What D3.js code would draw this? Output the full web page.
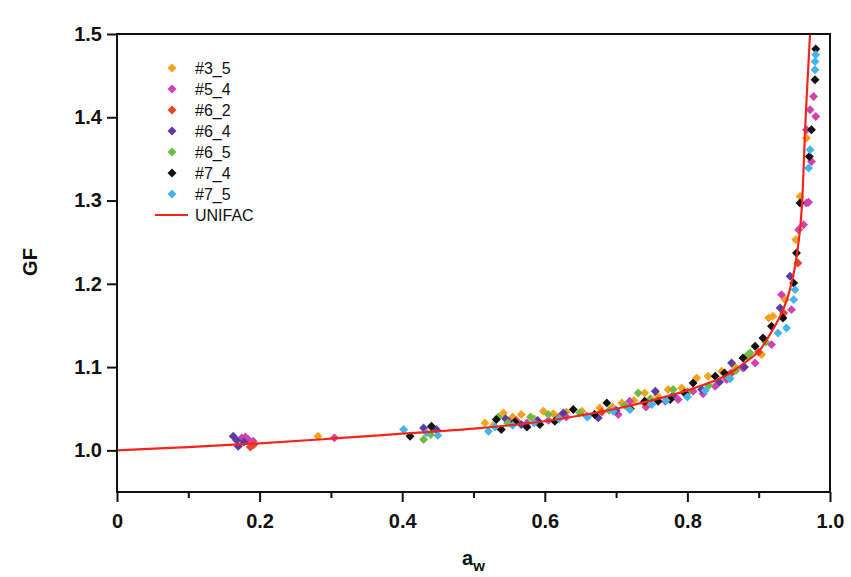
<!DOCTYPE html>
<html>
<head>
<meta charset="utf-8">
<script src="https://cdn.jsdelivr.net/npm/d3@7"></script>
<style>
  html, body { margin: 0; padding: 0; background: #fff; }
  svg { display: block; }
  text { font-family: "Liberation Sans", Arial, sans-serif; }
</style>
</head>
<body>
<svg id="chart" width="851" height="577"></svg>
<script>
// Axis ticks
const awTicks = [0, 0.2, 0.4, 0.6, 0.8, 1.0];
const awMinorTicks = [0.1, 0.3, 0.5, 0.7, 0.9];
const gfTicks = [1.0, 1.1, 1.2, 1.3, 1.4, 1.5];

// Measured growth factors, [a_w, GF] per sample
const s3_5 = [[0.282,1.017],[0.441,1.027],[0.516,1.033],[0.528,1.030],[0.542,1.045],[0.555,1.040],[0.567,1.043],[0.585,1.038],[0.598,1.047],[0.612,1.044],[0.630,1.046],[0.652,1.047],[0.677,1.051],[0.695,1.052],[0.708,1.057],[0.725,1.060],[0.740,1.069],[0.758,1.066],[0.773,1.073],[0.792,1.075],[0.813,1.087],[0.829,1.089],[0.848,1.095],[0.866,1.101],[0.885,1.112],[0.904,1.115],[0.914,1.159],[0.920,1.161],[0.937,1.181],[0.952,1.253],[0.958,1.305],[0.967,1.375]];
const s5_4 = [[0.175,1.015],[0.184,1.013],[0.191,1.011],[0.180,1.016],[0.305,1.015],[0.550,1.035],[0.575,1.033],[0.605,1.036],[0.630,1.040],[0.659,1.041],[0.703,1.043],[0.719,1.059],[0.742,1.052],[0.769,1.059],[0.787,1.061],[0.808,1.071],[0.822,1.068],[0.839,1.077],[0.855,1.085],[0.862,1.093],[0.878,1.099],[0.895,1.105],[0.918,1.127],[0.932,1.187],[0.946,1.169],[0.956,1.265],[0.963,1.271],[0.967,1.297],[0.970,1.298],[0.974,1.347],[0.967,1.385],[0.980,1.401],[0.972,1.409],[0.977,1.425]];
const s6_2 = [[0.187,1.004],[0.192,1.007],[0.560,1.036],[0.620,1.040],[0.680,1.046],[0.740,1.057],[0.800,1.070],[0.860,1.092],[0.900,1.118],[0.935,1.165],[0.955,1.225]];
const s6_4 = [[0.163,1.017],[0.170,1.005],[0.168,1.012],[0.178,1.010],[0.430,1.027],[0.448,1.025],[0.545,1.038],[0.567,1.031],[0.590,1.036],[0.626,1.045],[0.675,1.039],[0.700,1.048],[0.755,1.071],[0.780,1.066],[0.820,1.073],[0.845,1.082],[0.862,1.105],[0.880,1.100],[0.930,1.171],[0.944,1.209]];
const s6_5 = [[0.430,1.013],[0.440,1.019],[0.535,1.040],[0.548,1.033],[0.580,1.040],[0.605,1.043],[0.649,1.045],[0.690,1.048],[0.712,1.054],[0.731,1.069],[0.748,1.062],[0.780,1.073],[0.800,1.069],[0.830,1.078],[0.855,1.090],[0.868,1.096],[0.885,1.115],[0.888,1.117],[0.910,1.130]];
const s7_4 = [[0.411,1.017],[0.441,1.029],[0.532,1.037],[0.539,1.025],[0.558,1.034],[0.575,1.028],[0.593,1.031],[0.614,1.035],[0.640,1.049],[0.670,1.043],[0.687,1.057],[0.720,1.050],[0.740,1.059],[0.759,1.059],[0.776,1.061],[0.796,1.069],[0.808,1.081],[0.839,1.089],[0.852,1.093],[0.878,1.111],[0.895,1.125],[0.906,1.135],[0.918,1.149],[0.934,1.159],[0.949,1.201],[0.953,1.237],[0.958,1.297],[0.971,1.353],[0.974,1.385],[0.979,1.445],[0.980,1.482]];
const s7_5 = [[0.402,1.025],[0.434,1.021],[0.450,1.018],[0.521,1.023],[0.530,1.028],[0.555,1.030],[0.585,1.033],[0.620,1.038],[0.660,1.040],[0.696,1.047],[0.719,1.049],[0.750,1.055],[0.770,1.060],[0.800,1.064],[0.825,1.072],[0.860,1.086],[0.927,1.141],[0.939,1.147],[0.949,1.181],[0.951,1.193],[0.970,1.339],[0.972,1.361],[0.979,1.457],[0.979,1.467],[0.980,1.475]];

// UNIFAC prediction
const unifacAw = [0, 0.1, 0.2, 0.3, 0.4, 0.5, 0.6, 0.65, 0.7, 0.75, 0.8, 0.85, 0.88, 0.9, 0.915, 0.93, 0.94, 0.946, 0.951, 0.957, 0.9605, 0.9657, 0.972];
const unifacGF = [1.000, 1.004, 1.0085, 1.014, 1.020, 1.026, 1.035, 1.042, 1.050, 1.060, 1.072, 1.088, 1.105, 1.119, 1.138, 1.161, 1.182, 1.201, 1.221, 1.258, 1.292, 1.397, 1.500];

const seriesNames = ["#3_5", "#5_4", "#6_2", "#6_4", "#6_5", "#7_4", "#7_5"];
const seriesData = [s3_5, s5_4, s6_2, s6_4, s6_5, s7_4, s7_5];
const seriesColors = ["#f6a21e", "#d042ad", "#e8432b", "#5a3ca6", "#6dbd45", "#111111", "#44b5ea"];
const curveName = "UNIFAC";
const curveColor = "#f2261c";

const svg = d3.select("#chart");
const margin = { top: 34, right: 21, bottom: 85, left: 117 };
const W = 851, H = 577;
const iw = W - margin.left - margin.right;
const ih = H - margin.top - margin.bottom;

const x = d3.scaleLinear().domain([0, 1.0]).range([0, iw]);
const y = d3.scaleLinear().domain([0.95, 1.5]).range([ih, 0]);

const g = svg.append("g").attr("transform", `translate(${margin.left},${margin.top})`);

// Data points (rotated squares)
const sym = d3.symbol().type(d3.symbolSquare).size(40);
seriesData.forEach((pts, i) => {
  g.append("g").selectAll("path")
    .data(pts)
    .join("path")
    .attr("d", sym)
    .attr("transform", d => `translate(${x(d[0])},${y(d[1])}) rotate(45)`)
    .attr("fill", seriesColors[i]);
});

// UNIFAC curve
const curvePts = unifacAw.map((a, i) => [a, unifacGF[i]]);
g.append("path")
  .datum(curvePts)
  .attr("fill", "none")
  .attr("stroke", curveColor)
  .attr("stroke-width", 2.2)
  .attr("d", d3.line().x(d => x(d[0])).y(d => y(d[1])).curve(d3.curveCatmullRom.alpha(0.5)));

// Frame
g.append("rect")
  .attr("x", 0).attr("y", 0).attr("width", iw).attr("height", ih)
  .attr("fill", "none").attr("stroke", "#111").attr("stroke-width", 2);

// Axes
const xAxis = g.append("g").attr("transform", `translate(0,${ih})`)
  .call(d3.axisBottom(x).tickValues(awTicks)
    .tickFormat(d => d === 0 ? "0" : d.toFixed(1))
    .tickSize(10).tickPadding(12));
const xMinor = g.append("g").attr("transform", `translate(0,${ih})`)
  .call(d3.axisBottom(x).tickValues(awMinorTicks).tickFormat("").tickSize(6));
const yAxis = g.append("g")
  .call(d3.axisLeft(y).tickValues(gfTicks).tickFormat(d3.format(".1f"))
    .tickSize(10).tickPadding(5));

[xAxis, xMinor, yAxis].forEach(a => {
  a.select(".domain").remove();
  a.selectAll(".tick line").attr("stroke", "#111").attr("stroke-width", 2);
  a.selectAll(".tick text")
    .attr("fill", "#111")
    .style("font-size", "20px")
    .style("font-weight", "bold");
});

// Axis titles
svg.append("text")
  .attr("transform", "translate(30,262) rotate(-90)")
  .attr("text-anchor", "middle")
  .attr("dominant-baseline", "central")
  .style("font-size", "20px").style("font-weight", "bold").attr("fill", "#111")
  .text("GF");

const xt = svg.append("text")
  .attr("x", margin.left + iw / 2)
  .attr("y", 565)
  .attr("text-anchor", "middle")
  .style("font-size", "20px").style("font-weight", "bold").attr("fill", "#111");
xt.append("tspan").text("a");
xt.append("tspan").attr("dy", 6).style("font-size", "15px").text("w");

// Legend
const lg = svg.append("g");
const rowY = i => 68 + i * 21;
seriesNames.forEach((name, i) => {
  lg.append("path")
    .attr("d", sym)
    .attr("transform", `translate(172,${rowY(i)}) rotate(45)`)
    .attr("fill", seriesColors[i]);
  lg.append("text")
    .attr("x", 195).attr("y", rowY(i))
    .attr("dominant-baseline", "central")
    .style("font-size", "16px").attr("fill", "#111")
    .text(name);
});
lg.append("line")
  .attr("x1", 155).attr("x2", 188)
  .attr("y1", rowY(7)).attr("y2", rowY(7))
  .attr("stroke", curveColor).attr("stroke-width", 2.2);
lg.append("text")
  .attr("x", 195).attr("y", rowY(7))
  .attr("dominant-baseline", "central")
  .style("font-size", "16px").attr("fill", "#111")
  .text(curveName);
</script>
</body>
</html>
